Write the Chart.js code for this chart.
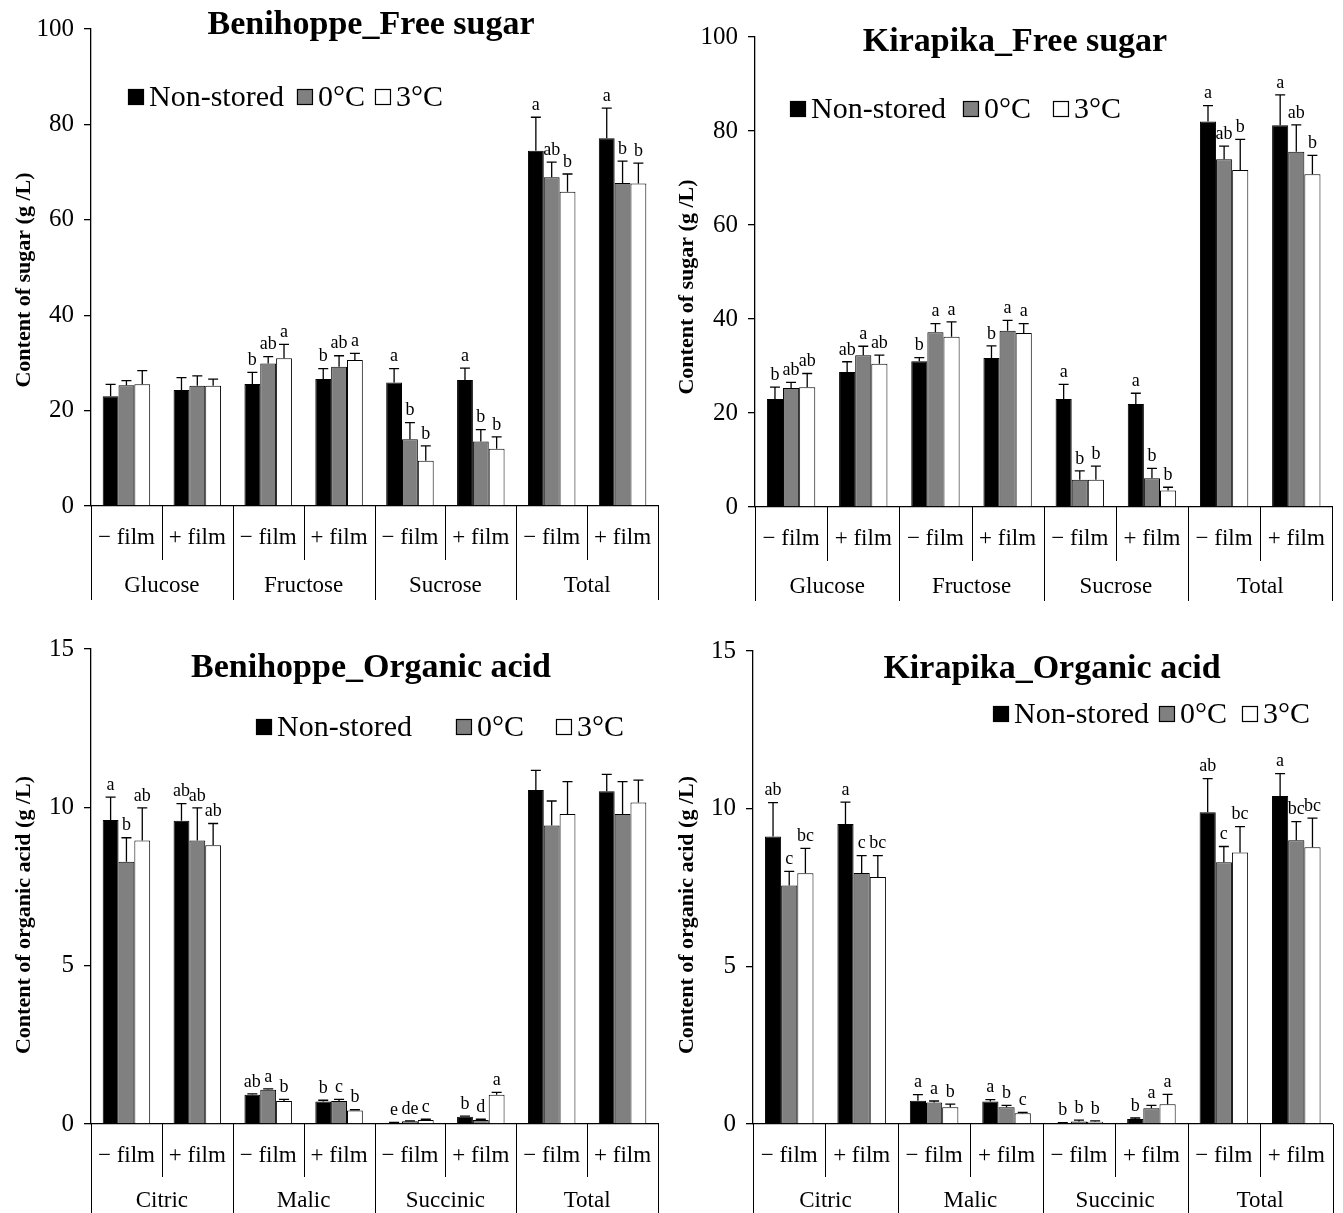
<!DOCTYPE html>
<html>
<head>
<meta charset="utf-8">
<title>Free sugar and organic acid content</title>
<script src="https://cdn.jsdelivr.net/npm/chart.js@4/dist/chart.umd.min.js"></script>
<style>
  html, body { margin: 0; padding: 0; background: #fff; }
  body { width: 1343px; height: 1213px; position: relative; overflow: hidden; }
  canvas { position: absolute; display: block; }
</style>
</head>
<body>
<canvas id="beniSugar" width="671" height="615" style="left:0;top:0"></canvas>
<canvas id="kiraSugar" width="671" height="615" style="left:672px;top:0"></canvas>
<canvas id="beniAcid" width="671" height="598" style="left:0;top:615px"></canvas>
<canvas id="kiraAcid" width="671" height="598" style="left:672px;top:615px"></canvas>
<script>
// ---- category and series labels ----
const filmLabels = ['\u2212 film', '+ film', '\u2212 film', '+ film', '\u2212 film', '+ film', '\u2212 film', '+ film'];
const sugarGroups = ['Glucose', 'Fructose', 'Sucrose', 'Total'];
const acidGroups = ['Citric', 'Malic', 'Succinic', 'Total'];
const seriesNames = ['Non-stored', '0\u00B0C', '3\u00B0C'];
const sugarTicks = [0, 20, 40, 60, 80, 100];
const acidTicks = [0, 5, 10, 15];

// ---- Benihoppe free sugar (g/L), mean and SD ----
const beniSugarNon = [23.0, 24.3, 25.6, 26.6, 25.9, 26.4, 74.5, 77.1];
const beniSugarNonSd = [2.5, 2.6, 2.4, 2.2, 2.9, 2.5, 7.0, 6.3];
const beniSugar0 = [25.3, 25.2, 29.9, 29.2, 14.0, 13.5, 68.9, 67.7];
const beniSugar0Sd = [1.0, 2.1, 1.4, 2.3, 3.5, 2.5, 3.2, 4.6];
const beniSugar3 = [25.5, 25.2, 31.0, 30.6, 9.5, 12.0, 65.9, 67.6];
const beniSugar3Sd = [2.9, 1.4, 2.9, 1.4, 3.1, 2.5, 3.7, 4.3];
const beniSugarNonSig = ['', '', 'b', 'b', 'a', 'a', 'a', 'a'];
const beniSugar0Sig = ['', '', 'ab', 'ab', 'b', 'b', 'ab', 'b'];
const beniSugar3Sig = ['', '', 'a', 'a', 'b', 'b', 'b', 'b'];

// ---- Kirapika free sugar (g/L) ----
const kiraSugarNon = [23.0, 28.7, 31.0, 31.7, 23.0, 21.9, 82.0, 81.2];
const kiraSugarNonSd = [2.5, 2.2, 0.8, 2.6, 3.1, 2.3, 3.4, 6.5];
const kiraSugar0 = [25.3, 32.3, 37.2, 37.5, 5.8, 6.1, 74.0, 75.6];
const kiraSugar0Sd = [1.2, 1.9, 1.8, 2.2, 1.9, 2.1, 2.8, 5.7];
const kiraSugar3 = [25.5, 30.5, 36.2, 37.0, 5.8, 3.5, 71.7, 70.8];
const kiraSugar3Sd = [2.9, 1.8, 3.2, 2.0, 2.9, 0.7, 6.5, 4.0];
const kiraSugarNonSig = ['b', 'ab', 'b', 'b', 'a', 'a', 'a', 'a'];
const kiraSugar0Sig = ['ab', 'a', 'a', 'a', 'b', 'b', 'ab', 'ab'];
const kiraSugar3Sig = ['ab', 'ab', 'a', 'a', 'b', 'b', 'b', 'b'];

// ---- Benihoppe organic acid (g/L) ----
const beniAcidNon = [9.60, 9.58, 0.92, 0.71, 0.04, 0.23, 10.55, 10.51];
const beniAcidNonSd = [0.72, 0.54, 0.03, 0.04, 0.01, 0.02, 0.62, 0.53];
const beniAcid0 = [8.28, 8.95, 1.08, 0.73, 0.09, 0.13, 9.43, 9.79];
const beniAcid0Sd = [0.76, 1.03, 0.03, 0.05, 0.01, 0.02, 0.77, 1.02];
const beniAcid3 = [8.95, 8.80, 0.73, 0.43, 0.13, 0.92, 9.79, 10.15];
const beniAcid3Sd = [1.03, 0.69, 0.05, 0.02, 0.02, 0.08, 1.02, 0.71];
const beniAcidNonSig = ['a', 'ab', 'ab', 'b', 'e', 'b', '', ''];
const beniAcid0Sig = ['b', 'ab', 'a', 'c', 'de', 'd', '', ''];
const beniAcid3Sig = ['ab', 'ab', 'b', 'b', 'c', 'a', '', ''];

// ---- Kirapika organic acid (g/L) ----
const kiraAcidNon = [9.12, 9.51, 0.74, 0.71, 0.03, 0.16, 9.89, 10.40];
const kiraAcidNonSd = [1.07, 0.70, 0.19, 0.06, 0.01, 0.03, 1.06, 0.71];
const kiraAcid0 = [7.56, 7.96, 0.68, 0.53, 0.08, 0.50, 8.30, 9.00];
const kiraAcid0Sd = [0.45, 0.55, 0.05, 0.06, 0.04, 0.09, 0.50, 0.59];
const kiraAcid3 = [7.95, 7.83, 0.53, 0.34, 0.07, 0.63, 8.61, 8.78];
const kiraAcid3Sd = [0.79, 0.68, 0.10, 0.03, 0.03, 0.31, 0.82, 0.92];
const kiraAcidNonSig = ['ab', 'a', 'a', 'a', 'b', 'b', 'ab', 'a'];
const kiraAcid0Sig = ['c', 'c', 'a', 'b', 'b', 'a', 'c', 'bc'];
const kiraAcid3Sig = ['bc', 'bc', 'b', 'c', 'b', 'a', 'bc', 'bc'];

// ---- styling ----
const SERIF = '"Liberation Serif", "Times New Roman", serif';
const barFills = ['#000000', '#808080', '#ffffff'];

// Draws error bars, significance letters, the two-level category axis,
// the in-plot legend, the panel title and the rotated y-axis title.
const panelDecor = {
  id: 'panelDecor',
  afterDatasetsDraw(chart, args, o) {
    const ctx = chart.ctx;
    const ys = chart.scales.y;
    ctx.save();
    chart.data.datasets.forEach((ds, di) => {
      const meta = chart.getDatasetMeta(di);
      meta.data.forEach((bar, i) => {
        const topY = ys.getPixelForValue(ds.data[i] + ds.sd[i]);
        ctx.strokeStyle = '#000';
        ctx.lineWidth = 1.3;
        ctx.beginPath();
        ctx.moveTo(bar.x, bar.y);
        ctx.lineTo(bar.x, topY);
        ctx.moveTo(bar.x - 5, topY);
        ctx.lineTo(bar.x + 5, topY);
        ctx.stroke();
        if (ds.sig[i]) {
          ctx.fillStyle = '#000';
          ctx.font = '18px ' + SERIF;
          ctx.textAlign = 'center';
          ctx.textBaseline = 'bottom';
          ctx.fillText(ds.sig[i], bar.x, topY - 3);
        }
      });
    });
    ctx.restore();
  },
  afterDraw(chart, args, o) {
    const ctx = chart.ctx;
    const xs = chart.scales.x;
    const area = chart.chartArea;
    ctx.save();
    // two-level category axis
    const n = chart.data.labels.length;
    const catW = xs.getPixelForValue(1) - xs.getPixelForValue(0);
    const x0 = xs.getPixelForValue(0) - catW / 2;
    ctx.strokeStyle = '#000';
    ctx.lineWidth = 1;
    for (let i = 0; i <= n; i++) {
      const bx = Math.round(x0 + i * catW) + 0.5;
      const len = i % 2 === 0 ? o.longLine : o.shortLine;
      ctx.beginPath();
      ctx.moveTo(bx, area.bottom);
      ctx.lineTo(bx, area.bottom + len);
      ctx.stroke();
    }
    ctx.fillStyle = '#000';
    ctx.font = '23px ' + SERIF;
    ctx.textAlign = 'center';
    ctx.textBaseline = 'middle';
    o.groups.forEach((g, gi) => {
      const cx = x0 + (gi * 2 + 1) * catW;
      ctx.fillText(g, cx, area.bottom + o.groupOffset);
    });
    // title
    ctx.font = 'bold 34px ' + SERIF;
    ctx.fillText(o.title, o.titleX, o.titleY);
    // legend
    ctx.font = '30px ' + SERIF;
    ctx.textAlign = 'left';
    let lx = o.legendX;
    chart.data.datasets.forEach((ds, di) => {
      const sq = 16;
      ctx.fillStyle = ds.backgroundColor;
      ctx.fillRect(lx, o.legendY - sq / 2, sq, sq);
      ctx.strokeStyle = '#000';
      ctx.lineWidth = 1.2;
      ctx.strokeRect(lx + 0.5, o.legendY - sq / 2 + 0.5, sq - 1, sq - 1);
      ctx.fillStyle = '#000';
      ctx.fillText(ds.label, lx + sq + 5, o.legendY + 1);
      lx += sq + 5 + ctx.measureText(ds.label).width + (o.legendGaps[di] || 0);
    });
    // y-axis title
    ctx.translate(o.yTitleX, o.yTitleY);
    ctx.rotate(-Math.PI / 2);
    ctx.font = 'bold 22px ' + SERIF;
    ctx.textAlign = 'center';
    ctx.fillText(o.yTitle, 0, 0);
    ctx.restore();
  }
};

function makePanel(id, cfg) {
  const canvas = document.getElementById(id);
  const datasets = cfg.series.map((s, k) => ({
    label: seriesNames[k],
    data: s.values,
    sd: s.sd,
    sig: s.sig,
    backgroundColor: barFills[k],
    borderColor: '#000',
    borderWidth: 1,
    barPercentage: 1,
    categoryPercentage: 0.67
  }));
  return new Chart(canvas, {
    type: 'bar',
    data: { labels: filmLabels, datasets },
    options: {
      responsive: false,
      animation: false,
      devicePixelRatio: 1,
      layout: { padding: { top: cfg.area.top, right: canvas.width - cfg.area.right, bottom: 0, left: 0 } },
      plugins: {
        legend: { display: false },
        tooltip: { enabled: false },
        panelDecor: cfg.decor
      },
      scales: {
        x: {
          grid: { display: false, drawTicks: false },
          border: { display: true, color: '#000', width: 1.3 },
          ticks: { color: '#000', font: { family: SERIF, size: 23 }, padding: 18, maxRotation: 0, autoSkip: false },
          afterFit(s) { s.height = canvas.height - cfg.area.bottom; }
        },
        y: {
          min: cfg.ticks[0],
          max: cfg.ticks[cfg.ticks.length - 1],
          afterBuildTicks(s) { s.ticks = cfg.ticks.map(v => ({ value: v })); },
          grid: { display: true, drawOnChartArea: false, drawTicks: true, tickLength: 7, color: '#000', lineWidth: 1.3 },
          border: { display: true, color: '#000', width: 1.3 },
          ticks: { color: '#000', font: { family: SERIF, size: 25 }, padding: 10 },
          afterFit(s) { s.width = cfg.area.left; }
        }
      }
    },
    plugins: [panelDecor]
  });
}

makePanel('beniSugar', {
  area: { left: 91, top: 29, right: 658, bottom: 506 },
  ticks: sugarTicks,
  series: [
    { values: beniSugarNon, sd: beniSugarNonSd, sig: beniSugarNonSig },
    { values: beniSugar0, sd: beniSugar0Sd, sig: beniSugar0Sig },
    { values: beniSugar3, sd: beniSugar3Sd, sig: beniSugar3Sig }
  ],
  decor: {
    title: 'Benihoppe_Free sugar', titleX: 371, titleY: 25,
    legendX: 128, legendY: 97, legendGaps: [13, 10, 0],
    yTitle: 'Content of sugar (g /L)', yTitleX: 24, yTitleY: 280,
    groups: sugarGroups, shortLine: 54, longLine: 94, groupOffset: 80
  }
});

makePanel('kiraSugar', {
  area: { left: 83, top: 37, right: 668, bottom: 507 },
  ticks: sugarTicks,
  series: [
    { values: kiraSugarNon, sd: kiraSugarNonSd, sig: kiraSugarNonSig },
    { values: kiraSugar0, sd: kiraSugar0Sd, sig: kiraSugar0Sig },
    { values: kiraSugar3, sd: kiraSugar3Sd, sig: kiraSugar3Sig }
  ],
  decor: {
    title: 'Kirapika_Free sugar', titleX: 343, titleY: 42,
    legendX: 118, legendY: 109, legendGaps: [17, 22, 0],
    yTitle: 'Content of sugar (g /L)', yTitleX: 15, yTitleY: 287,
    groups: sugarGroups, shortLine: 54, longLine: 94, groupOffset: 80
  }
});

makePanel('beniAcid', {
  area: { left: 91, top: 34, right: 658, bottom: 509 },
  ticks: acidTicks,
  series: [
    { values: beniAcidNon, sd: beniAcidNonSd, sig: beniAcidNonSig },
    { values: beniAcid0, sd: beniAcid0Sd, sig: beniAcid0Sig },
    { values: beniAcid3, sd: beniAcid3Sd, sig: beniAcid3Sig }
  ],
  decor: {
    title: 'Benihoppe_Organic acid', titleX: 371, titleY: 53,
    legendX: 256, legendY: 112, legendGaps: [44, 32, 0],
    yTitle: 'Content of organic acid (g /L)', yTitleX: 24, yTitleY: 300,
    groups: acidGroups, shortLine: 53, longLine: 95, groupOffset: 77
  }
});

makePanel('kiraAcid', {
  area: { left: 81, top: 36, right: 668, bottom: 509 },
  ticks: acidTicks,
  series: [
    { values: kiraAcidNon, sd: kiraAcidNonSd, sig: kiraAcidNonSig },
    { values: kiraAcid0, sd: kiraAcid0Sd, sig: kiraAcid0Sig },
    { values: kiraAcid3, sd: kiraAcid3Sd, sig: kiraAcid3Sig }
  ],
  decor: {
    title: 'Kirapika_Organic acid', titleX: 380, titleY: 54,
    legendX: 321, legendY: 99, legendGaps: [10, 15, 0],
    yTitle: 'Content of organic acid (g /L)', yTitleX: 15, yTitleY: 300,
    groups: acidGroups, shortLine: 53, longLine: 95, groupOffset: 77
  }
});
</script>
</body>
</html>
